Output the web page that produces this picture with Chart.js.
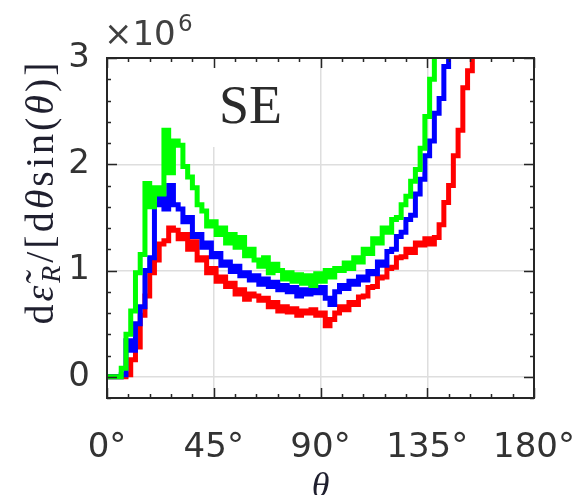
<!DOCTYPE html>
<html>
<head>
<meta charset="utf-8">
<script src="https://cdn.jsdelivr.net/npm/chart.js@4.4.1/dist/chart.umd.min.js"></script>
<style>
  html, body { margin: 0; padding: 0; background: #fff; }
  #wrap { width: 574px; height: 495px; }
</style>
</head>
<body>
<div id="wrap"><canvas id="se"></canvas></div>
<script>
// bin left edges, degrees
const theta = [
  0, 2, 4, 6, 8, 10, 12, 14, 16, 18, 20, 22, 24, 26, 28, 30, 32, 34, 36, 38,
  40, 42, 44, 46, 48, 50, 52, 54, 56, 58, 60, 62, 64, 66, 68, 70, 72, 74, 76, 78,
  80, 82, 84, 86, 88, 90, 92, 94, 96, 98, 100, 102, 104, 106, 108, 110, 112, 114, 116, 118,
  120, 122, 124, 126, 128, 130, 132, 134, 136, 138, 140, 142, 144, 146, 148, 150, 152, 154, 156,
];

// values in units of 1e6
const green = [
  0, 0, 0, 0, 0.08, 0.4, 0.62, 0.98, 1.15, 1.82, 1.6, 1.78, 1.72, 2.32, 1.92,
  2.22, 2.18, 1.98, 1.88, 1.78, 1.62, 1.56, 1.42, 1.46, 1.34, 1.4, 1.26, 1.34, 1.22, 1.31,
  1.14, 1.2, 1.1, 1.04, 1.12, 0.98, 1.06, 1.0, 0.92, 0.98, 0.9, 0.96, 0.88, 0.95, 0.86,
  0.97, 0.9, 1.0, 0.94, 1.02, 1.0, 1.07, 1.02, 1.12, 1.08, 1.2, 1.16, 1.3, 1.26, 1.4,
  1.36, 1.48, 1.5, 1.62, 1.7, 1.84, 1.95, 2.15, 2.45, 2.8, 3.1,
];
const blue = [
  0, 0, 0, 0, 0.02, 0.34, 0.25, 0.5, 0.66, 1.0, 1.12, 1.62, 1.68, 1.58, 1.8,
  1.62, 1.58, 1.46, 1.5, 1.32, 1.34, 1.22, 1.26, 1.13, 1.16, 1.05, 1.08, 0.99, 1.04, 0.95,
  0.98, 0.91, 0.95, 0.87, 0.92, 0.85, 0.89, 0.82, 0.86, 0.8, 0.84, 0.76, 0.82, 0.78, 0.84,
  0.79, 0.84, 0.74, 0.68, 0.8, 0.86, 0.83, 0.9, 0.87, 0.94, 0.91, 0.99, 0.97, 1.08, 1.05,
  1.18, 1.2, 1.32, 1.36, 1.48, 1.52, 1.72, 1.86, 2.08, 2.22, 2.48, 2.62, 2.92, 3.1,
];
const red = [
  0, 0, 0, 0, 0, 0.02, 0.16, 0.28, 0.58, 0.76, 0.98, 1.1, 1.25, 1.28, 1.4,
  1.38, 1.3, 1.34, 1.2, 1.27, 1.1, 1.12, 0.98, 1.02, 0.9, 0.94, 0.85, 0.88, 0.78, 0.82,
  0.73, 0.78, 0.76, 0.72, 0.74, 0.66, 0.7, 0.62, 0.66, 0.61, 0.64, 0.58, 0.62, 0.6, 0.63,
  0.58, 0.6, 0.48, 0.54, 0.6, 0.66, 0.63, 0.7, 0.68, 0.75, 0.76, 0.84, 0.85, 0.93, 0.94,
  1.02, 1.03, 1.12, 1.13, 1.2, 1.17, 1.26, 1.24, 1.3, 1.25, 1.31, 1.43, 1.64, 1.8, 2.08,
  2.32, 2.72, 2.88, 3.1,
];

const xTicks = [0, 45, 90, 135, 180];
const yTicks = [0, 1, 2, 3];
const xMinor = [0, 9, 18, 27, 36, 45, 54, 63, 72, 81, 90, 99, 108, 117, 126, 135, 144, 153, 162, 171, 180];
const yMinor = [-0.2, 0, 0.2, 0.4, 0.6, 0.8, 1, 1.2, 1.4, 1.6, 1.8, 2, 2.2, 2.4, 2.6, 2.8, 3];

const pts = (ys) => ys.map((y, i) => ({ x: theta[i], y: y }));

const line = (label, ys, color) => ({
  label: label,
  data: pts(ys),
  borderColor: color,
  backgroundColor: color,
  borderWidth: 5,
  pointRadius: 0,
  stepped: "after",
  clip: 0,
});

const axisText = {
  id: "axisText",
  beforeDatasetsDraw(chart) {
    const { ctx, chartArea: a } = chart;
    // white box behind the panel tag
    ctx.save();
    ctx.fillStyle = "#fff";
    ctx.fillRect(a.left + 90, a.top + 1, 105, 88);
    ctx.restore();
  },
  afterDatasetsDraw(chart) {
    const { ctx, chartArea: a, scales } = chart;
    ctx.save();
    ctx.strokeStyle = "#262626";
    ctx.lineWidth = 1.5;
    ctx.beginPath();
    xMinor.forEach((v) => {
      const px = Math.round(scales.x.getPixelForValue(v)) + 0.5;
      const len = xTicks.includes(v) ? 10 : 4;
      ctx.moveTo(px, a.bottom);
      ctx.lineTo(px, a.bottom - len);
      ctx.moveTo(px, a.top);
      ctx.lineTo(px, a.top + len);
    });
    yMinor.forEach((v) => {
      const py = Math.round(scales.y.getPixelForValue(v)) + 0.5;
      const len = yTicks.includes(v) ? 10 : 4;
      ctx.moveTo(a.left, py);
      ctx.lineTo(a.left + len, py);
      ctx.moveTo(a.right, py);
      ctx.lineTo(a.right - len, py);
    });
    ctx.stroke();
    ctx.lineWidth = 2;
    ctx.strokeRect(a.left, a.top, a.right - a.left, a.bottom - a.top);

    // panel tag
    ctx.fillStyle = "#2b2b2b";
    ctx.font = "54px 'Liberation Serif'";
    ctx.textBaseline = "alphabetic";
    ctx.fillText("SE", 219, 123);

    // exponent
    ctx.fillStyle = "#404040";
    ctx.font = "34px 'DejaVu Sans'";
    ctx.fillText("\u00d710", 104, 45);
    ctx.font = "23px 'DejaVu Sans'";
    ctx.fillText("6", 178, 31);

    // x title
    ctx.fillStyle = "#1f1f2e";
    ctx.font = "italic 36px 'Liberation Serif'";
    ctx.textAlign = "center";
    ctx.fillText("\u03b8", (a.left + a.right) / 2, 497);

    // y title, rotated
    const base = "40px 'Liberation Serif'";
    const ital = "italic 40px 'Liberation Serif'";
    const parts = [
      { t: "d", f: base, dy: 0 },
      { t: "\u03b5\u0303", f: ital, dy: 0 },
      { t: "R", f: "italic 28px 'Liberation Serif'", dy: 7 },
      { t: "/[d", f: base, dy: 0 },
      { t: "\u03b8", f: ital, dy: 0 },
      { t: "sin(", f: base, dy: 0 },
      { t: "\u03b8", f: ital, dy: 0 },
      { t: ")]", f: base, dy: 0 },
    ];
    ctx.textAlign = "left";
    ctx.letterSpacing = "3px";
    let total = 0;
    parts.forEach((p) => {
      ctx.font = p.f;
      p.w = ctx.measureText(p.t).width;
      total += p.w;
    });
    ctx.translate(53, 192);
    ctx.rotate(-Math.PI / 2);
    let x0 = -total / 2;
    parts.forEach((p) => {
      ctx.font = p.f;
      ctx.fillText(p.t, x0, p.dy);
      x0 += p.w;
    });
    ctx.restore();
  },
};

new Chart(document.getElementById("se"), {
  type: "line",
  data: {
    datasets: [
      line("green", green, "#00ff00"),
      line("blue", blue, "#0000ff"),
      line("red", red, "#ff0000"),
    ],
  },
  options: {
    responsive: true,
    maintainAspectRatio: false,
    animation: false,
    layout: {
      padding: { left: 0, top: 58, right: 40, bottom: 0 },
    },
    plugins: {
      legend: { display: false },
      tooltip: { enabled: false },
    },
    scales: {
      x: {
        type: "linear",
        min: 0,
        max: 180,
        afterBuildTicks: (s) => {
          s.ticks = xTicks.map((v) => ({ value: v }));
        },
        afterFit: (s) => {
          s.height = 97;
          s.paddingLeft = 0;
          s.paddingRight = 0;
        },
        border: { display: false },
        grid: { color: "#dedede", lineWidth: 1.5, drawTicks: false },
        ticks: {
          padding: 30,
          maxRotation: 0,
          color: "#333",
          font: { family: "DejaVu Sans", size: 34 },
          callback: (v) => v + "\u00b0",
        },
      },
      y: {
        type: "linear",
        min: -0.2,
        max: 3,
        afterBuildTicks: (s) => {
          s.ticks = yTicks.map((v) => ({ value: v }));
        },
        afterFit: (s) => {
          s.width = 107;
          s.paddingTop = 0;
          s.paddingBottom = 0;
        },
        border: { display: false },
        grid: { color: "#dedede", lineWidth: 1.5, drawTicks: false },
        ticks: {
          padding: 17,
          color: "#333",
          font: { family: "DejaVu Sans", size: 34 },
        },
      },
    },
  },
  plugins: [axisText],
});
</script>
</body>
</html>
